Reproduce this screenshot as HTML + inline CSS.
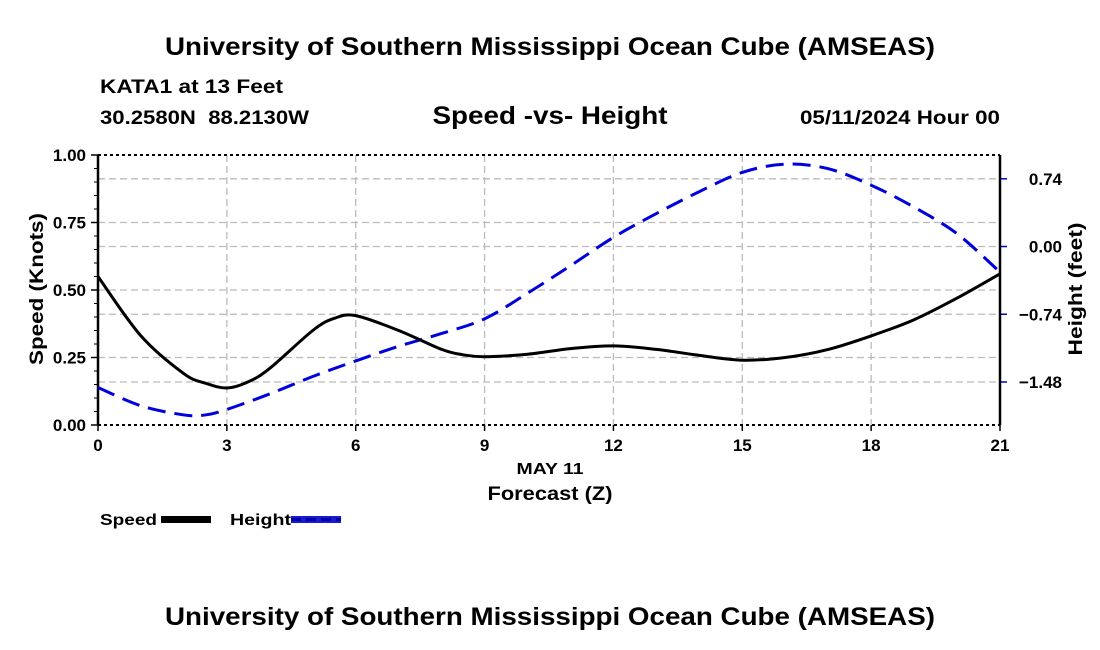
<!DOCTYPE html>
<html><head><meta charset="utf-8"><style>
body{margin:0;background:#fff;}
svg{display:block;font-family:"Liberation Sans",sans-serif;font-weight:bold;}
</style></head><body>
<svg id="chart" width="1100" height="650" viewBox="0 0 1100 650">
<text x="550" y="55" font-size="25" text-anchor="middle" textLength="770" lengthAdjust="spacingAndGlyphs">University of Southern Mississippi Ocean Cube (AMSEAS)</text>
<text x="100" y="93" font-size="19" textLength="183" lengthAdjust="spacingAndGlyphs">KATA1 at 13 Feet</text>
<text x="100" y="124" font-size="19" textLength="209" lengthAdjust="spacingAndGlyphs">30.2580N&#160;&#160;88.2130W</text>
<text x="550" y="124" font-size="25" text-anchor="middle" textLength="235" lengthAdjust="spacingAndGlyphs">Speed -vs- Height</text>
<text x="1000" y="124" font-size="19" text-anchor="end" textLength="200" lengthAdjust="spacingAndGlyphs">05/11/2024 Hour 00</text>
<g id="grid"></g>
<g id="axes"></g>
<g id="series"></g>
<text x="550" y="474" font-size="16" text-anchor="middle" textLength="67" lengthAdjust="spacingAndGlyphs">MAY 11</text>
<text x="550" y="500" font-size="19" text-anchor="middle" textLength="125" lengthAdjust="spacingAndGlyphs">Forecast (Z)</text>
<text transform="translate(43,289) rotate(-90)" font-size="19" text-anchor="middle" textLength="152" lengthAdjust="spacingAndGlyphs">Speed (Knots)</text>
<text transform="translate(1082,289) rotate(-90)" font-size="19" text-anchor="middle" textLength="133" lengthAdjust="spacingAndGlyphs">Height (feet)</text>
<g>
<text x="100" y="525" font-size="16" textLength="57" lengthAdjust="spacingAndGlyphs">Speed</text>
<rect x="161" y="516" width="50" height="7" fill="#000"/>
</g>
<g>
<text x="230" y="525" font-size="16" textLength="61" lengthAdjust="spacingAndGlyphs">Height</text>
<rect x="291" y="516" width="50" height="7" fill="#1a1acc"/>
<line x1="291" y1="519.5" x2="341" y2="519.5" stroke="#0000aa" stroke-width="3" stroke-dasharray="10,5"/>
</g>
<text x="550" y="625" font-size="25" text-anchor="middle" textLength="770" lengthAdjust="spacingAndGlyphs">University of Southern Mississippi Ocean Cube (AMSEAS)</text>
</svg>
<script>
const hours = [0,1,2,2.5,3,3.5,4,5,5.5,6,7,8,8.5,9,10,11,12,13,14,15,16,17,18,19,20,21];
const speedVals = [0.55,0.33,0.19,0.155,0.137,0.16,0.21,0.35,0.395,0.405,0.35,0.28,0.26,0.253,0.262,0.283,0.293,0.28,0.258,0.24,0.25,0.28,0.33,0.39,0.47,0.56];
const heightHours = [0,1,2,2.5,3,4,5,6,7,8,9,10,11,12,13,14,15,16,17,18,19,20,21];
const heightVals = [-1.54,-1.74,-1.84,-1.84,-1.78,-1.61,-1.42,-1.25,-1.09,-0.95,-0.79,-0.51,-0.21,0.10,0.36,0.60,0.81,0.90,0.85,0.67,0.43,0.14,-0.28];
const xTicks = [0,3,6,9,12,15,18,21];
const speedTicks = [0,0.25,0.5,0.75,1.0];
const speedTickLabels = ["0.00","0.25","0.50","0.75","1.00"];
const heightTicks = [-1.48,-0.74,0,0.74];
const heightTickLabels = ["\u22121.48","\u22120.74","0.00","0.74"];

const X0=98,X1=1000,Y0=425,Y1=155;
const HMIN=-1.95,HMAX=1.0;
const xs=h=>X0+(h-0)/(21-0)*(X1-X0);
const ys=v=>Y0-(v-0)/(1-0)*(Y0-Y1);
const yh=v=>Y0-(v-HMIN)/(HMAX-HMIN)*(Y0-Y1);
const NS="http://www.w3.org/2000/svg";
function mk(tag,attrs,parent){const e=document.createElementNS(NS,tag);for(const k in attrs)e.setAttribute(k,attrs[k]);parent.appendChild(e);return e;}
const grid=document.getElementById('grid'),axes=document.getElementById('axes'),series=document.getElementById('series');

xTicks.forEach((t,i)=>{
  if(t>0&&t<21){const l=mk('line',{x1:xs(t),x2:xs(t),y1:Y1,y2:Y0,stroke:'#bbb','stroke-width':1.3,'stroke-dasharray':'7,4'},grid);
  
  }
  const tk=mk('line',{x1:xs(t),x2:xs(t),y1:Y0,y2:Y0+6,stroke:'#000','stroke-width':1.5},axes);
  
  
  const tx=mk('text',{x:xs(t),y:Y0+26,'font-size':17,'text-anchor':'middle'},axes);tx.textContent=t;
  
  
});
speedTicks.forEach((t,i)=>{
  if(t>0&&t<1){const l=mk('line',{x1:X0,x2:X1,y1:ys(t),y2:ys(t),stroke:'#bbb','stroke-width':1.3,'stroke-dasharray':'7,4'},grid);
  
  }
  const tk=mk('line',{x1:X0-7,x2:X0,y1:ys(t),y2:ys(t),stroke:'#000','stroke-width':1.5},axes);
  
  
  const tx=mk('text',{x:X0-12,y:ys(t)+6,'font-size':17,'text-anchor':'end'},axes);tx.textContent=speedTickLabels[i];
  
  
});
for(let v=0.05;v<1;v+=0.05){mk('line',{x1:X0-4,x2:X0,y1:ys(v),y2:ys(v),stroke:'#000','stroke-width':1},axes);}
heightTicks.forEach((t,i)=>{
  const l=mk('line',{x1:X0,x2:X1,y1:yh(t),y2:yh(t),stroke:'#bbb','stroke-width':1.3,'stroke-dasharray':'7,4'},grid);
  
  
  const tk=mk('line',{x1:X1,x2:X1+7,y1:yh(t),y2:yh(t),stroke:'#00c','stroke-width':1.5},axes);
  
  
  const tx=mk('text',{x:X1+62,y:yh(t)+6,'font-size':17,'text-anchor':'end'},axes);tx.textContent=heightTickLabels[i];
  
  
});
mk('line',{x1:X0,x2:X1,y1:Y1,y2:Y1,stroke:'#000','stroke-width':2,'stroke-dasharray':'3,3'},axes);
mk('line',{x1:X0,x2:X1,y1:Y0,y2:Y0,stroke:'#000','stroke-width':2,'stroke-dasharray':'3,3'},axes);
mk('line',{x1:X0,x2:X0,y1:Y1,y2:Y0,stroke:'#000','stroke-width':2.5},axes);
mk('line',{x1:X1,x2:X1,y1:Y1,y2:Y0,stroke:'#000','stroke-width':2.5},axes);

function smooth(pts){let d='M'+pts[0][0]+','+pts[0][1];
  for(let i=0;i<pts.length-1;i++){const p0=pts[i-1]||pts[i],p1=pts[i],p2=pts[i+1],p3=pts[i+2]||p2;
    const c1=[p1[0]+(p2[0]-p0[0])/6,p1[1]+(p2[1]-p0[1])/6],c2=[p2[0]-(p3[0]-p1[0])/6,p2[1]-(p3[1]-p1[1])/6];
    d+=' C'+c1+' '+c2+' '+p2;}return d;}
const hp=mk('path',{d:smooth(heightHours.map((h,i)=>[xs(h),yh(heightVals[i])])),fill:'none',stroke:'#0000dd','stroke-width':3,'stroke-dasharray':'18,9'},series);


const sp=mk('path',{d:smooth(hours.map((h,i)=>[xs(h),ys(speedVals[i])])),fill:'none',stroke:'#000','stroke-width':3},series);


</script>
</body></html>
